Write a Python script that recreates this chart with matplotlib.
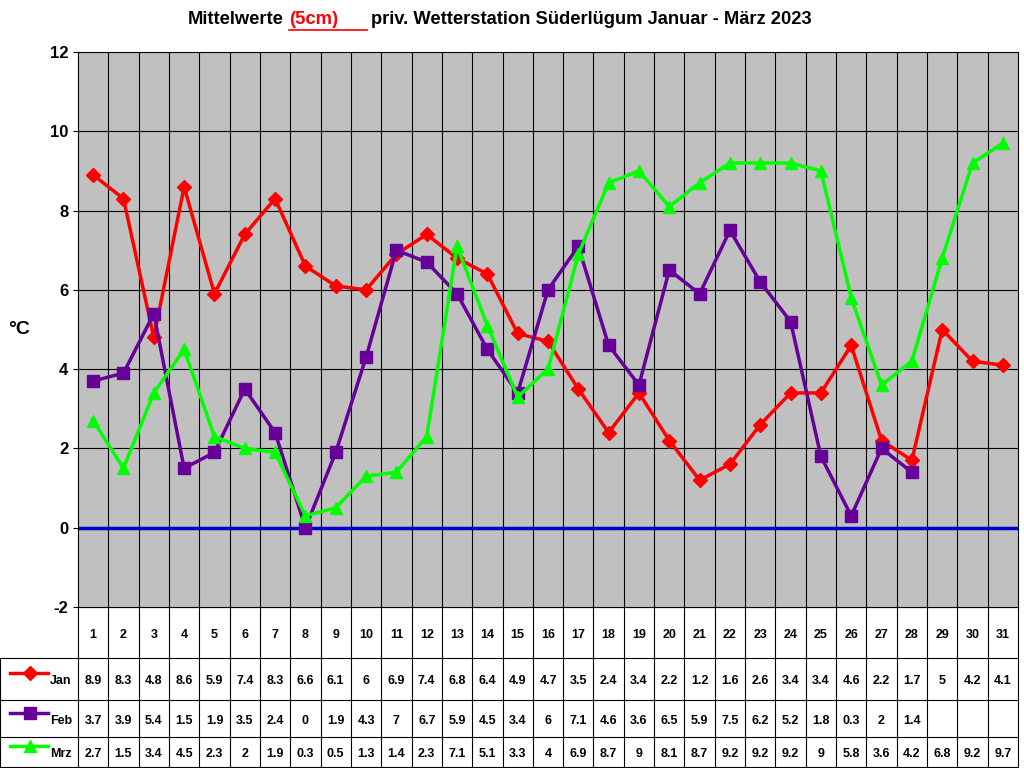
import matplotlib
matplotlib.use("Agg")
import matplotlib.pyplot as plt
import numpy as np

days = list(range(1, 32))
jan = [8.9,8.3,4.8,8.6,5.9,7.4,8.3,6.6,6.1,6,6.9,7.4,6.8,6.4,4.9,4.7,3.5,2.4,3.4,2.2,1.2,1.6,2.6,3.4,3.4,4.6,2.2,1.7,5,4.2,4.1]
feb = [3.7,3.9,5.4,1.5,1.9,3.5,2.4,0,1.9,4.3,7,6.7,5.9,4.5,3.4,6,7.1,4.6,3.6,6.5,5.9,7.5,6.2,5.2,1.8,0.3,2,1.4]
mrz = [2.7,1.5,3.4,4.5,2.3,2,1.9,0.3,0.5,1.3,1.4,2.3,7.1,5.1,3.3,4,6.9,8.7,9,8.1,8.7,9.2,9.2,9.2,9,5.8,3.6,4.2,6.8,9.2,9.7]
series = [("Jan", jan, "#FF0000", "D", 7), ("Feb", feb, "#660099", "s", 8), ("Mrz", mrz, "#00FF00", "^", 9)]

plt.rcParams['font.family'] = 'Liberation Sans'
fig = plt.figure(figsize=(10.24, 7.68), dpi=100)
L, R, T, B = 78, 1018, 52, 607
ax = fig.add_axes([L/1024, (768-B)/768, (R-L)/1024, (B-T)/768])
ax.set_facecolor("#C0C0C0")
ax.set_xlim(0.5, 31.5)
ax.set_ylim(-2, 12)
ax.set_yticks(range(-2, 13, 2))
ax.set_yticklabels([str(v) for v in range(-2, 13, 2)], fontsize=12, fontweight='bold')
ax.set_xticks([])
for x in np.arange(1.5, 31.5, 1):
    ax.axvline(x, color='black', lw=0.8, zorder=1)
for y in range(0, 12, 2):
    ax.axhline(y, color='black', lw=0.8, zorder=1)
ax.axhline(0, color='#0000CC', lw=2.5, zorder=2)
for name, vals, c, m, ms in series:
    ax.plot(days[:len(vals)], vals, color=c, marker=m, markersize=ms, lw=2.5, zorder=3)
for s in ax.spines.values():
    s.set_color('black')
fig.text(8/1024, 1-330/768, "°C", fontsize=14, fontweight='bold', va='center')

# title
ty = 1-20/768
fs = 13.2
fig.text(284/1024, ty, "Mittelwerte", ha='right', va='center', fontsize=fs, fontweight='bold')
fig.text(289/1024, ty, "(5cm)", ha='left', va='center', fontsize=fs, fontweight='bold', color='red')
fig.add_artist(plt.Line2D([289/1024, 367/1024], [1-30/768, 1-30/768], color='red', lw=1.2))
fig.text(371/1024, ty, "priv. Wetterstation Süderlügum Januar - März 2023", ha='left', va='center', fontsize=fs, fontweight='bold')

# table
tax = fig.add_axes([0, 0, 1, 1], zorder=-1)
tax.set_xlim(0, 1024); tax.set_ylim(768, 0); tax.axis('off')
rows = [607, 658, 700, 737, 767]
cw = (R-L)/31
px = lambda d: L + (d-0.5)*cw
for y in rows:
    tax.plot([0 if y != 607 else L, R], [y, y], color='black', lw=0.8)
tax.plot([0, 0], [658, 767], color='black', lw=0.8)
for i in range(32):
    x = L + i*cw
    tax.plot([x, x], [607, 767], color='black', lw=0.8)
for d in days:
    tax.text(px(d), 635, str(d), ha='center', va='center', fontsize=9, fontweight='bold')
for r, (name, vals, c, m, ms) in enumerate(series):
    yc = (rows[r+1] + rows[r+2]) / 2
    tax.plot([10, 48], [yc-6, yc-6], color=c, lw=2.5)
    tax.plot([30], [yc-6], color=c, marker=m, markersize=ms)
    tax.text(50, yc+2, name, ha='left', va='center', fontsize=9, fontweight='bold')
    for d, v in zip(days, vals):
        tax.text(px(d), yc+2, f"{v:g}", ha='center', va='center', fontsize=9, fontweight='bold')

fig.savefig("out.png", dpi=100, facecolor='white')
